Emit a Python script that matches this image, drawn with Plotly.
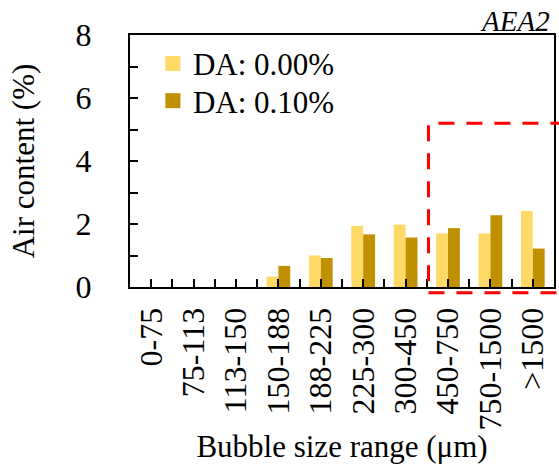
import plotly.graph_objects as go

categories = ["0-75", "75-113", "113-150", "150-188", "188-225", "225-300",
              "300-450", "450-750", "750-1500", ">1500"]
da_000 = [0, 0, 0, 0.33, 1.00, 1.94, 1.98, 1.70, 1.70, 2.41]
da_010 = [0, 0, 0, 0.67, 0.92, 1.67, 1.57, 1.87, 2.28, 1.22]
series_names = ["DA: 0.00%", "DA: 0.10%"]
series_colors = ["#FFD966", "#BF9000"]

FONT = "Liberation Serif"
xpos = list(range(len(categories)))

fig = go.Figure()
for name, vals, col in zip(series_names, [da_000, da_010], series_colors):
    fig.add_trace(go.Bar(x=xpos, y=vals, name=name, showlegend=False,
                         marker=dict(color=col, line=dict(width=0))))
# legend entries (square swatches), one legend per row for exact spacing
for i, (name, col) in enumerate(zip(series_names, series_colors)):
    fig.add_trace(go.Scatter(x=[None], y=[None], mode="markers", name=name,
                             marker=dict(symbol="square", size=15, color=col),
                             legend="legend" if i == 0 else "legend2"))

XR = [-0.5, len(categories) - 0.5]
YR = [0, 8]
box_x0, box_x1, box_y0, box_y1 = 6.54, 9.8, -0.18, 5.2
def px(v):
    return (v - XR[0]) / (XR[1] - XR[0])
def py(v):
    return (v - YR[0]) / (YR[1] - YR[0])

fig.add_shape(type="rect", xref="paper", yref="paper",
              x0=px(box_x0), x1=px(box_x1), y0=py(box_y0), y1=py(box_y1),
              line=dict(color="#FF0000", width=3, dash="16px,12px"), layer="above")

fig.add_annotation(text="<i>AEA2</i>", xref="paper", yref="paper", x=0.995, y=1.0,
                   xanchor="right", yanchor="bottom", showarrow=False, yshift=-4,
                   font=dict(family=FONT, size=29, color="black"))

leg_common = dict(x=0.054, xanchor="left", yanchor="middle", itemsizing="trace",
                  bgcolor="rgba(0,0,0,0)", font=dict(family=FONT, size=31))

fig.update_layout(
    width=559, height=464,
    margin=dict(l=130, r=3, t=35, b=177),
    paper_bgcolor="white", plot_bgcolor="white",
    barmode="group", bargap=0.44, bargroupgap=0,
    font=dict(family=FONT, size=30, color="black"),
    showlegend=True,
    legend=dict(y=0.886, **leg_common),
    legend2=dict(y=0.738, **leg_common),
    xaxis=dict(range=XR, tickvals=xpos, ticktext=categories, tickangle=-90,
               ticks="inside", ticklen=8, tickwidth=2, tickcolor="black",
               showline=True, linecolor="black", linewidth=2, mirror=True,
               showgrid=False, zeroline=False, ticklabelstandoff=6,
               minor=dict(ticks="inside", tick0=0.5, dtick=1, ticklen=8, tickwidth=2, tickcolor="black"),
               title=dict(text="Bubble size range (μm)", font=dict(family=FONT, size=31), standoff=4),
               tickfont=dict(family=FONT, size=32)),
    yaxis=dict(range=YR, tickvals=[0, 2, 4, 6, 8],
               ticks="inside", ticklen=8, tickwidth=2, tickcolor="black",
               showline=True, linecolor="black", linewidth=2, mirror=True,
               showgrid=False, zeroline=False, ticklabelstandoff=30,
               minor=dict(ticks="inside", tick0=1, dtick=2, ticklen=8, tickwidth=2, tickcolor="black"),
               title=dict(text="Air content (%)", font=dict(family=FONT, size=31), standoff=32),
               tickfont=dict(family=FONT, size=32)),
)

fig.write_html("out.html")
